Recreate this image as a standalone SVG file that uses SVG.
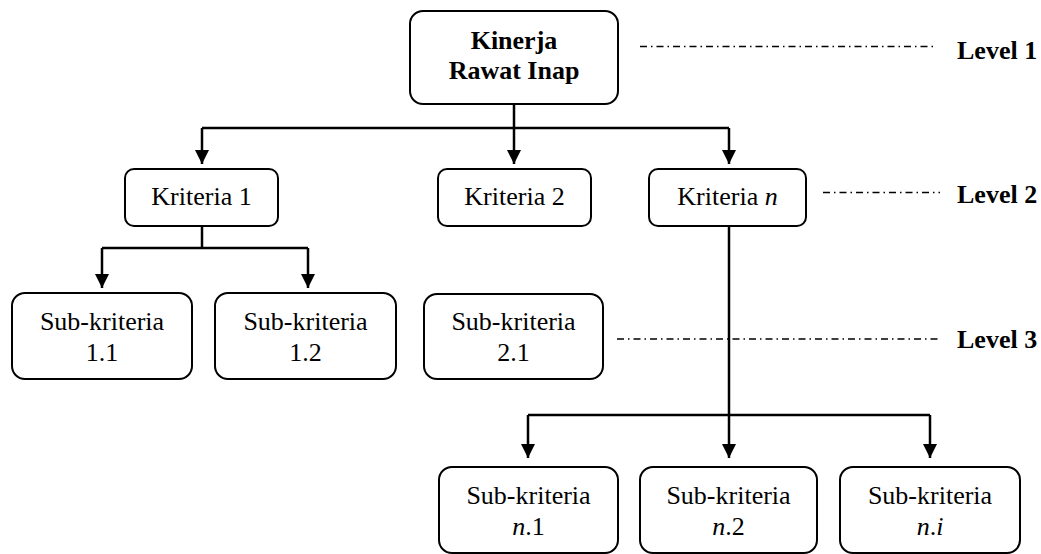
<svg xmlns="http://www.w3.org/2000/svg" width="1041" height="554" viewBox="0 0 1041 554" font-family="'Liberation Serif', 'DejaVu Serif', serif">
  <defs>
    <style>
      .box { fill: #ffffff; stroke: #000000; stroke-width: 2; }
      .txt { font-family: 'Liberation Serif', 'DejaVu Serif', serif; font-size: 26px; fill: #000000; text-anchor: middle; }
      .bold { font-weight: bold; }
      .lvl { font-family: 'Liberation Serif', 'DejaVu Serif', serif; font-size: 26px; font-weight: bold; fill: #000000; }
      .conn { fill: none; stroke: #000000; stroke-width: 2.5; }
      .dashdot { fill: none; stroke: #000000; stroke-width: 1.3; stroke-dasharray: 7 4 1.5 4; }
    </style>
    <marker id="arrow" viewBox="0 0 14 14" refX="14" refY="7" markerWidth="14" markerHeight="14" markerUnits="userSpaceOnUse" orient="auto">
      <path d="M0,0 L14,7 L0,14 Z" fill="#000000"/>
    </marker>
  </defs>

  <!-- connectors -->
  <g id="connectors">
    <!-- root to criteria -->
    <path class="conn" d="M514,104 V128"/>
    <path class="conn" d="M202,128 H729"/>
    <path class="conn" d="M202,128 V164" marker-end="url(#arrow)"/>
    <path class="conn" d="M514,128 V164" marker-end="url(#arrow)"/>
    <path class="conn" d="M729,128 V164" marker-end="url(#arrow)"/>
    <!-- Kriteria 1 to sub-criteria -->
    <path class="conn" d="M202,226 V248"/>
    <path class="conn" d="M102,248 H308"/>
    <path class="conn" d="M102,248 V288" marker-end="url(#arrow)"/>
    <path class="conn" d="M308,248 V288" marker-end="url(#arrow)"/>
    <!-- Kriteria n to sub-criteria -->
    <path class="conn" d="M729,226 V458" marker-end="url(#arrow)"/>
    <path class="conn" d="M528,415 H930"/>
    <path class="conn" d="M528,415 V458" marker-end="url(#arrow)"/>
    <path class="conn" d="M930,415 V458" marker-end="url(#arrow)"/>
    <!-- level guides -->
    <path class="dashdot" d="M640,46.5 H934"/>
    <path class="dashdot" d="M823,192.5 H940"/>
    <path class="dashdot" d="M617,339 H940"/>
  </g>

  <!-- level 1 -->
  <g id="root">
    <rect class="box" x="410" y="11" width="208" height="93" rx="13"/>
    <text class="txt bold" x="514" y="49">Kinerja</text>
    <text class="txt bold" x="514" y="79">Rawat Inap</text>
  </g>

  <!-- level 2 -->
  <g id="kriteria-1">
    <rect class="box" x="125" y="169" width="153" height="57" rx="9"/>
    <text class="txt" x="201.5" y="205">Kriteria 1</text>
  </g>
  <g id="kriteria-2">
    <rect class="box" x="438" y="169" width="153" height="57" rx="9"/>
    <text class="txt" x="514.5" y="205">Kriteria 2</text>
  </g>
  <g id="kriteria-n">
    <rect class="box" x="649" y="169" width="157" height="57" rx="9"/>
    <text class="txt" x="727.5" y="205">Kriteria <tspan font-style="italic">n</tspan></text>
  </g>

  <!-- level 3 -->
  <g id="sub-1-1">
    <rect class="box" x="12" y="293" width="180" height="86" rx="13"/>
    <text class="txt" x="102" y="330">Sub-kriteria</text>
    <text class="txt" x="102" y="361">1.1</text>
  </g>
  <g id="sub-1-2">
    <rect class="box" x="215" y="293" width="181" height="86" rx="13"/>
    <text class="txt" x="305.5" y="330">Sub-kriteria</text>
    <text class="txt" x="305.5" y="361">1.2</text>
  </g>
  <g id="sub-2-1">
    <rect class="box" x="424" y="294" width="179" height="85" rx="13"/>
    <text class="txt" x="513.5" y="330">Sub-kriteria</text>
    <text class="txt" x="513.5" y="361">2.1</text>
  </g>
  <g id="sub-n-1">
    <rect class="box" x="439" y="467" width="179" height="86" rx="13"/>
    <text class="txt" x="528.5" y="504">Sub-kriteria</text>
    <text class="txt" x="528.5" y="535"><tspan font-style="italic">n</tspan>.1</text>
  </g>
  <g id="sub-n-2">
    <rect class="box" x="640" y="467" width="177" height="86" rx="13"/>
    <text class="txt" x="728.5" y="504">Sub-kriteria</text>
    <text class="txt" x="728.5" y="535"><tspan font-style="italic">n</tspan>.2</text>
  </g>
  <g id="sub-n-i">
    <rect class="box" x="840" y="467" width="180" height="86" rx="13"/>
    <text class="txt" x="930" y="504">Sub-kriteria</text>
    <text class="txt" x="930" y="535"><tspan font-style="italic">n</tspan>.<tspan font-style="italic">i</tspan></text>
  </g>

  <!-- level labels -->
  <g id="level-labels">
    <text class="lvl" x="957" y="59">Level 1</text>
    <text class="lvl" x="957" y="203">Level 2</text>
    <text class="lvl" x="957" y="348">Level 3</text>
  </g>
</svg>
